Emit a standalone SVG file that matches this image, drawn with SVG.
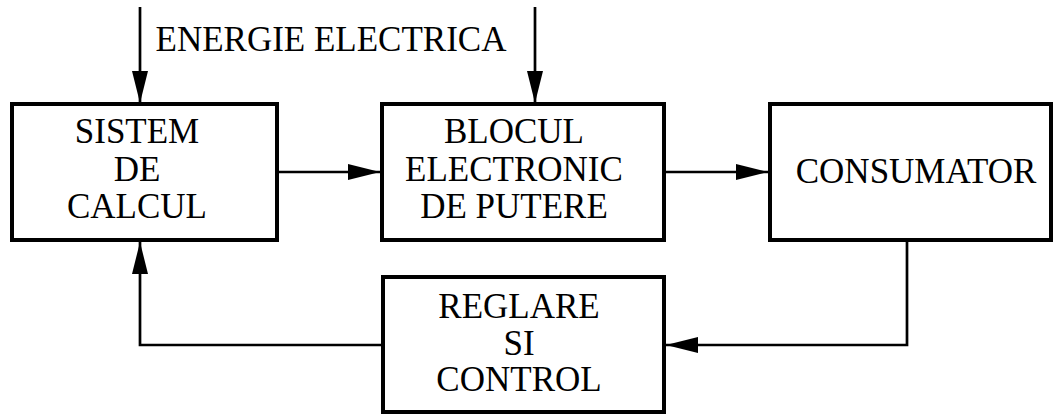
<svg xmlns="http://www.w3.org/2000/svg" width="1057" height="417" viewBox="0 0 1057 417">
<defs>
<style>
.box{fill:#fff;stroke:#000;stroke-width:4}
.ln{fill:none;stroke:#000;stroke-width:2.7;marker-end:url(#ah)}
.ln0{fill:none;stroke:#000;stroke-width:2.7}
text{font-family:"Liberation Serif","Times New Roman",serif;font-size:35px;fill:#000;text-anchor:middle}
</style>
<marker id="ah" markerUnits="userSpaceOnUse" markerWidth="34" markerHeight="18" refX="32" refY="9" orient="auto">
<path d="M0,1 L32,9 L0,17 Z" fill="#000"/>
</marker>
</defs>
<rect width="1057" height="417" fill="#fff"/>
<g id="connectors">
<path class="ln" d="M140,7 V103"/>
<path class="ln" d="M535,7 V103"/>
<path class="ln" d="M277,172 H380"/>
<path class="ln" d="M664,172 H768"/>
<path class="ln" d="M907,240 V345 H666"/>
<path class="ln" d="M383,345 H140 V242"/>
</g>
<g id="label-energie"><text x="331" y="51">ENERGIE ELECTRICA</text></g>
<g id="sistem">
<rect class="box" x="12" y="104" width="265" height="136"/>
<text x="137" y="143">SISTEM</text>
<text x="137" y="181">DE</text>
<text x="137" y="218">CALCUL</text>
</g>
<g id="blocul">
<rect class="box" x="382" y="104" width="282" height="136"/>
<text x="514" y="143">BLOCUL</text>
<text x="514" y="181">ELECTRONIC</text>
<text x="514" y="218">DE PUTERE</text>
</g>
<g id="consumator">
<rect class="box" x="770" y="104" width="281" height="136"/>
<text x="916" y="183">CONSUMATOR</text>
</g>
<g id="reglare">
<rect class="box" x="383" y="277" width="281" height="135"/>
<text x="519" y="318">REGLARE</text>
<text x="519" y="355">SI</text>
<text x="519" y="391">CONTROL</text>
</g>
</svg>
